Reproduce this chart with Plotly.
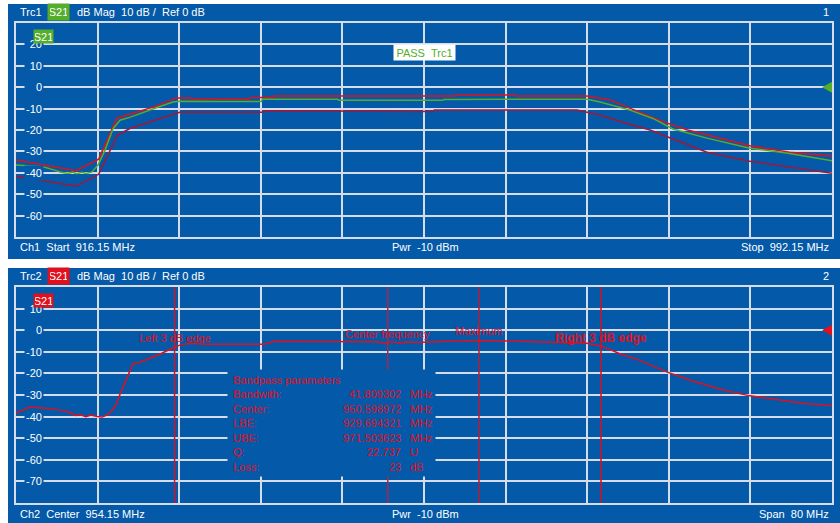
import plotly.graph_objects as go

W, H = 840, 523

# ---- Channel 1 : S21 trace with upper / lower limit lines ----
ch1_freq = [916.15, 917.5, 918.66, 919.5, 920.25, 920.99, 921.4, 921.8, 922.3, 922.7,
            923.23, 923.79, 924.44, 925.18, 925.84, 926.8, 927.7, 929.28, 930.77, 931.42,
            935.0, 939.0, 939.1, 940.46, 946.1, 946.2, 955.9, 956.0, 962.0, 969.33,
            970.54, 972.12, 973.33, 975.47, 977.33, 980.5, 984.5, 987.9, 990.0, 992.15]
ch1_s21 = [-36.4, -36.9, -37.2, -38.4, -39.6, -40.3, -39.7, -40.4, -39.8, -40.3,
           -39.6, -36.4, -29.4, -19.5, -15.4, -14.0, -12.3, -9.5, -6.9, -6.6,
           -6.7, -6.7, -5.6, -5.6, -5.6, -6.1, -6.1, -5.7, -5.6, -5.6,
           -6.9, -9.2, -10.7, -14.6, -19.5, -23.8, -28.5, -30.8, -32.5, -34.4]

upper_freq = [916.15, 921.75, 923.85, 925.1, 925.55, 928.9, 931.1, 932.4, 932.5, 937.9,
              938.0, 940.1, 940.2, 957.0, 957.1, 962.6, 962.7, 969.3, 971.5, 973.3,
              976.8, 978.7, 984.5, 988.2, 992.15]
upper_db = [-34.0, -39.0, -33.6, -20.0, -14.5, -9.3, -5.0, -5.0, -5.6, -5.6,
            -4.8, -4.8, -4.1, -4.1, -3.6, -3.6, -4.1, -4.1, -6.0, -9.8,
            -16.8, -20.0, -27.4, -30.4, -32.2]

lower_freq = [916.15, 921.75, 923.85, 925.6, 926.5, 926.8, 931.4, 939.1, 939.2, 945.7,
              945.8, 955.0, 955.1, 968.4, 970.5, 972.4, 975.2, 980.5, 984.5, 992.15]
lower_db = [-41.6, -46.3, -40.7, -22.4, -20.0, -19.2, -11.7, -11.7, -11.0, -11.0,
            -11.3, -11.3, -10.7, -10.7, -13.0, -16.0, -20.0, -30.4, -34.6, -40.2]

ch1_ticks = [20, 10, 0, -10, -20, -30, -40, -50, -60]

# ---- Channel 2 : S21 trace with bandpass markers ----
ch2_freq = [914.15, 915.5, 916.8, 918.5, 919.4, 920.0, 920.4, 921.0, 921.5, 922.1,
            922.6, 923.1, 923.5, 923.9, 924.35, 924.85, 925.15, 925.6, 926.3, 927.3,
            928.3, 929.25, 930.2, 931.2, 932.9, 935.0, 938.5, 939.5, 943.0, 946.0,
            949.5, 950.3, 951.0, 951.7, 952.3, 952.8, 954.0, 957.0, 960.0, 962.6,
            964.5, 966.8, 968.5, 970.1, 971.6, 973.4, 975.0, 978.0, 980.5, 983.2,
            986.1, 988.0, 989.7, 991.3, 992.5, 994.15]
ch2_s21 = [-38.4, -35.6, -36.0, -37.0, -38.0, -39.5, -39.0, -40.0, -39.3, -40.0,
           -40.2, -39.2, -37.5, -35.0, -29.6, -24.0, -20.4, -15.7, -14.8, -13.0,
           -11.0, -8.8, -6.9, -6.0, -6.5, -6.5, -6.5, -5.1, -5.1, -5.1,
           -5.3, -5.9, -5.4, -6.0, -5.5, -5.6, -5.6, -5.0, -4.8, -5.0,
           -5.2, -5.4, -5.8, -6.0, -7.4, -11.0, -13.4, -19.4, -23.5, -27.3,
           -30.4, -31.5, -32.8, -33.8, -34.2, -35.0]

ch2_ticks = [10, 0, -10, -20, -30, -40, -50, -60, -70]

marker_names = ["Left 3 dB edge", "Center frequency", "Maximum", "Right 3 dB edge"]
marker_freqs = [929.694321, 950.598972, 959.54, 971.503623]
marker_label_db = [-3.7, -1.9, -0.5, -3.7]
marker_colors = ["#d0142c", "#a8284a", "#b0203f", "#d8101f"]

bandpass_labels = ["Bandwith:", "Center:", "LBE:", "UBE:", "Q:", "Loss:"]
bandpass_values = ["41.809302", "950.598972", "929.694321", "971.503623", "22.737", "23"]
bandpass_units = ["MHz", "MHz", "MHz", "MHz", "U", "dB"]

# ---- styling ----
BLUE = "#0459a8"
GRID = "#d6dde9"
GREEN = "#55ad2c"
RED = "#e0101e"
DARKRED = "#a0183a"
FONT = "Liberation Sans"
NB = "\u00a0"
Y1_RANGE = [-70, 30]
Y2_RANGE = [-80, 20]


def px(x):
    return x / W


def py(y):
    return 1 - y / H


fig = go.Figure()

fig.add_trace(go.Scatter(x=lower_freq, y=lower_db, mode="lines",
                         line=dict(color=DARKRED, width=1.5), xaxis="x", yaxis="y"))
fig.add_trace(go.Scatter(x=upper_freq, y=upper_db, mode="lines",
                         line=dict(color=RED, width=1.5), xaxis="x", yaxis="y"))
fig.add_trace(go.Scatter(x=ch1_freq, y=ch1_s21, mode="lines",
                         line=dict(color=GREEN, width=1.5), xaxis="x", yaxis="y"))

# marker lines (full diagram height) in channel 2
for f, c in zip(marker_freqs, marker_colors):
    fig.add_trace(go.Scatter(x=[f, f], y=Y2_RANGE, mode="lines",
                             line=dict(color=c, width=1.5), xaxis="x2", yaxis="y2"))

fig.add_trace(go.Scatter(x=ch2_freq, y=ch2_s21, mode="lines",
                         line=dict(color=RED, width=1.5), xaxis="x2", yaxis="y2"))

axis_common = dict(showgrid=True, gridcolor=GRID, gridwidth=2, showline=True,
                   mirror=True, linecolor=GRID, linewidth=2, showticklabels=False,
                   ticks="", zeroline=False, fixedrange=True)

shapes = [
    # instrument panels
    dict(type="rect", xref="paper", yref="paper", x0=px(8), x1=px(840), y0=py(259), y1=py(4),
         fillcolor=BLUE, line=dict(width=0), layer="below"),
    dict(type="rect", xref="paper", yref="paper", x0=px(8), x1=px(840), y0=py(523), y1=py(268),
         fillcolor=BLUE, line=dict(width=0), layer="below"),
    # reference level triangles
    dict(type="path", xref="x", yref="y", xsizemode="pixel", ysizemode="pixel",
         xanchor=992.15, yanchor=0, path="M 1,6 L -10,0 L 1,-6 Z",
         fillcolor=GREEN, line=dict(width=0)),
    dict(type="path", xref="x2", yref="y2", xsizemode="pixel", ysizemode="pixel",
         xanchor=994.15, yanchor=0, path="M 1,6 L -10,0 L 1,-6 Z",
         fillcolor=RED, line=dict(width=0)),
]

ann = []


def text(x, y, s, anchor="left", color="white", size=11, **kw):
    ann.append(dict(xref="paper", yref="paper", x=px(x), y=py(y), text=s, showarrow=False,
                    xanchor=anchor, yanchor="middle",
                    font=dict(family=FONT, size=size, color=color), **kw))


# headers and footers
for top, name, num, col in [(12, "Trc1", "1", GREEN), (276, "Trc2", "2", RED)]:
    text(18, top, name)
    text(58.5, top, "S21", anchor="center", bgcolor=col, width=17, height=12, borderpad=2)
    text(75, top, f"dB Mag{NB}{NB}10 dB /{NB}{NB}Ref 0 dB")
    text(831, top, num, anchor="right")

text(18, 247, f"Ch1{NB}{NB}Start{NB}{NB}916.15 MHz")
text(390, 247, f"Pwr{NB}{NB}-10 dBm")
text(831, 247, f"Stop{NB}{NB}992.15 MHz", anchor="right")
text(18, 514, f"Ch2{NB}{NB}Center{NB}{NB}954.15 MHz")
text(390, 514, f"Pwr{NB}{NB}-10 dBm")
text(831, 514, f"Span{NB}{NB}80 MHz", anchor="right")

# y tick labels breaking the grid lines
for ticks, yref in [(ch1_ticks, "y"), (ch2_ticks, "y2")]:
    for t in ticks:
        ann.append(dict(xref="paper", yref=yref, x=px(34), y=t, text=str(t), showarrow=False,
                        xanchor="center", yanchor="middle", align="right", width=16,
                        borderpad=1, bgcolor=BLUE,
                        font=dict(family=FONT, size=11, color="white")))

# trace tags inside the diagrams
text(43.5, 36, "S21", anchor="center", bgcolor=GREEN, width=17, height=11, borderpad=1)
text(43.5, 300, "S21", anchor="center", bgcolor=RED, width=17, height=11, borderpad=1)

# limit check result
text(424.5, 52.5, f"PASS{NB}{NB}Trc1", anchor="center", color=GREEN, bgcolor="white",
     width=59, height=13, borderpad=1)

# marker labels
for name, f, y, i in zip(marker_names, marker_freqs, marker_label_db, range(4)):
    bold = i == 3
    ann.append(dict(xref="x2", yref="y2", x=f, y=y, text=f"<b>{name}</b>" if bold else name,
                    showarrow=False, xanchor="center", yanchor="middle",
                    font=dict(family=FONT, size=12 if bold else 11, color=RED)))

# bandpass parameter table: opaque panel, then its rows on top
text((228 + 435) / 2, (370 + 476) / 2, NB, anchor="center", bgcolor=BLUE,
     width=205, height=104, borderpad=1)
rows_y = [394, 408.5, 423, 437.5, 452, 466.5]
text(231, 380, "Bandpass parameters", color=RED)
for lab, val, unit, y in zip(bandpass_labels, bandpass_values, bandpass_units, rows_y):
    text(231, y, lab, color=RED)
    text(403, y, val, anchor="right", color=RED)
    text(408, y, unit, color=RED)

fig.update_layout(
    width=W, height=H, margin=dict(l=0, r=0, t=0, b=0),
    paper_bgcolor="white", plot_bgcolor=BLUE, showlegend=False,
    xaxis=dict(domain=[px(16), px(832)], range=[916.15, 992.15], tick0=916.15, dtick=7.6,
               anchor="y", **axis_common),
    yaxis=dict(domain=[py(237), py(23)], range=Y1_RANGE, dtick=10, anchor="x", **axis_common),
    xaxis2=dict(domain=[px(16), px(832)], range=[914.15, 994.15], tick0=914.15, dtick=8,
                anchor="y2", **axis_common),
    yaxis2=dict(domain=[py(503), py(287)], range=Y2_RANGE, dtick=10, anchor="x2",
                **axis_common),
    shapes=shapes, annotations=ann,
)

fig.write_html("out.html")
